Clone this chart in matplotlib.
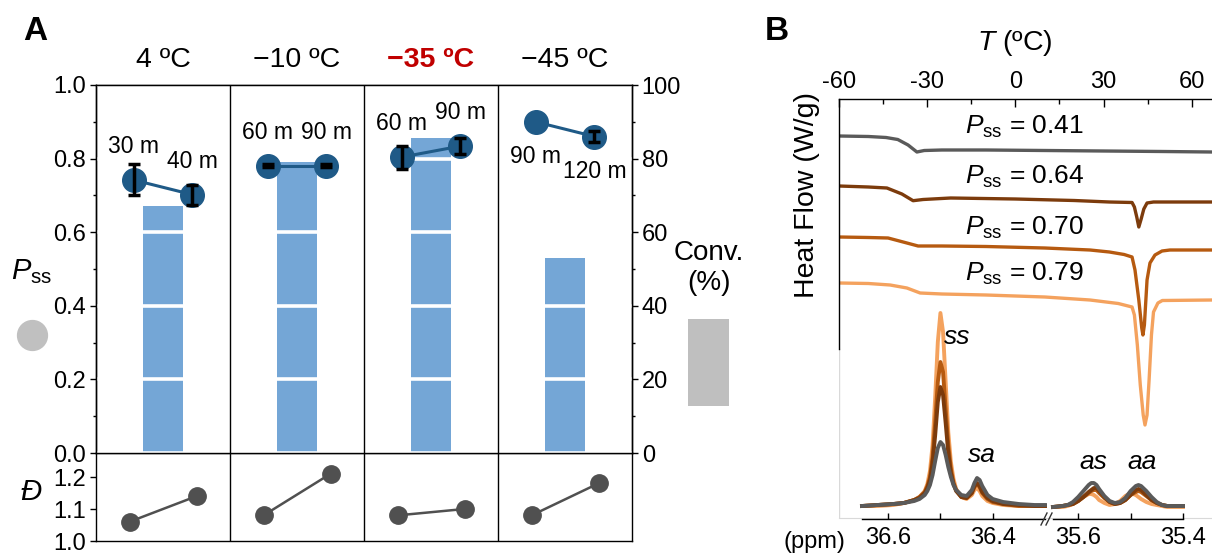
import numpy as np
import matplotlib
matplotlib.use("Agg")
import matplotlib.pyplot as plt
from matplotlib.lines import Line2D
from matplotlib.patches import Rectangle
from matplotlib.ticker import MultipleLocator

plt.rcParams['font.family'] = ['Liberation Sans', 'DejaVu Sans']
plt.rcParams['mathtext.fontset'] = 'custom'
plt.rcParams['mathtext.rm'] = 'Liberation Sans'
plt.rcParams['mathtext.it'] = 'Liberation Sans:italic'
plt.rcParams['axes.unicode_minus'] = False

# ---------------- panel A data ----------------
temps = ['4 ºC', '\u221210 ºC', '\u221235 ºC', '\u221245 ºC']
highlight = 2
times = [['30 m', '40 m'], ['60 m', '90 m'], ['60 m', '90 m'], ['90 m', '120 m']]
pss = [[0.742, 0.702], [0.781, 0.781], [0.804, 0.834], [0.900, 0.860]]
pss_err = [[0.042, 0.027], [0.004, 0.004], [0.031, 0.022], [np.nan, 0.016]]
conv = [67, 79, 85.5, 53]
dispersity = [[1.06, 1.14], [1.08, 1.21], [1.08, 1.10], [1.08, 1.18]]
labels_above = [True, True, True, False]

# ---------------- panel B data: DSC (T in ºC, heat flow offset, a.u.) ----------------
dsc_labels = ['0.41', '0.64', '0.70', '0.79']
dsc_T = [
    [-60, -50, -44, -40, -36.5, -33.5, -31, -25, -10, 10, 30, 50, 67],
    [-60, -50, -43.7, -38.6, -34.8, -31.4, -22, 0, 20, 32, 39.7, 40.5, 41.3, 42,
     42.8, 43.7, 44.8, 47, 55, 67],
    [-60, -50, -43.3, -36.9, -33.1, -25, -10, 10, 25.4, 32, 37, 39.7, 40.7, 42,
     43, 43.4, 43.9, 44.8, 45.8, 47.5, 49.9, 52.6, 67],
    [-60, -50, -42.6, -36.9, -32.4, -25, -10, 10, 25.4, 35, 39.7, 40.5, 41.5, 42.5,
     43.5, 44.1, 44.8, 45.5, 46.3, 47, 48.5, 50, 67],
]
dsc_hf = [
    [3.82, 3.815, 3.805, 3.785, 3.73, 3.66, 3.675, 3.68, 3.68, 3.675, 3.67, 3.665, 3.66],
    [3.32, 3.31, 3.30, 3.24, 3.173, 3.185, 3.20, 3.19, 3.175, 3.16, 3.155, 3.11, 3.01,
     2.91, 2.99, 3.09, 3.15, 3.16, 3.16, 3.16],
    [2.81, 2.805, 2.80, 2.75, 2.72, 2.72, 2.715, 2.70, 2.68, 2.66, 2.635, 2.61, 2.48,
     2.18, 1.90, 1.83, 1.93, 2.38, 2.55, 2.63, 2.67, 2.68, 2.68],
    [2.35, 2.345, 2.33, 2.30, 2.25, 2.24, 2.23, 2.21, 2.18, 2.145, 2.11, 2.03, 1.73,
     1.33, 1.03, 0.93, 1.03, 1.38, 1.83, 2.06, 2.15, 2.175, 2.18],
]

# ---------------- panel B data: 13C NMR (ppm, intensity a.u.) ----------------
ppm_left = [36.65, 36.62, 36.59, 36.57, 36.55, 36.54, 36.53, 36.525, 36.52, 36.515,
            36.51, 36.505, 36.50, 36.495, 36.49, 36.485, 36.48, 36.475, 36.47, 36.46,
            36.45, 36.44, 36.435, 36.43, 36.425, 36.42, 36.41, 36.40, 36.38, 36.35,
            36.32, 36.30]
nmr_left = [
    [1, 2, 3, 4, 6, 8, 12, 16, 22, 32, 46, 59, 65, 62, 52, 40, 30, 22, 17, 12,
     11, 17, 24, 29, 27, 21, 12, 8, 5, 3, 2, 2],
    [1, 2, 3, 4, 7, 9, 14, 19, 27, 44, 72, 105, 120, 112, 84, 54, 34, 23, 16, 10,
     9, 14, 21, 24, 21, 15, 9, 6, 3, 2, 1, 1],
    [1, 2, 3, 4, 7, 10, 15, 21, 30, 50, 85, 125, 145, 135, 98, 62, 38, 24, 17, 10,
     9, 14, 20, 23, 20, 14, 8, 5, 3, 1, 1, 1],
    [1, 1, 2, 4, 7, 10, 16, 23, 36, 62, 110, 165, 194, 175, 125, 75, 45, 28, 18, 10,
     8, 12, 17, 19, 16, 11, 6, 4, 2, 1, 1, 1],
]
ppm_right = [35.648, 35.63, 35.62, 35.61, 35.60, 35.59, 35.58, 35.575, 35.57, 35.565,
             35.56, 35.55, 35.54, 35.53, 35.52, 35.51, 35.50, 35.49, 35.485, 35.48,
             35.47, 35.46, 35.45, 35.44, 35.43, 35.42, 35.41, 35.40]
nmr_right = [
    [0, 1, 2, 5, 10, 16, 22, 24, 24, 22, 18, 11, 6, 4, 5, 9, 16, 21, 22, 21,
     16, 10, 5, 2, 1, 1, 1, 1],
    [0, 1, 2, 3, 6, 10, 15, 17, 19, 19, 16, 10, 5, 3, 4, 7, 12, 17, 18, 17,
     12, 7, 4, 2, 1, 1, 1, 1],
    [0, 1, 2, 3, 6, 10, 14, 16, 17, 17, 14, 9, 5, 3, 4, 7, 12, 15, 16, 15,
     11, 7, 4, 2, 1, 1, 1, 1],
    [0, 0, 1, 3, 6, 10, 13, 13, 12, 10, 7, 4, 2, 3, 6, 11, 14, 12, 10, 8,
     5, 3, 2, 1, 0, 0, 0, 0],
]
peak_labels = ['ss', 'sa', 'as', 'aa']

# ---------------- layout helpers (pixel -> figure fraction) ----------------
W, H = 1212, 555


def box(left, top, right, bottom):
    return [left / W, 1 - bottom / H, (right - left) / W, (bottom - top) / H]


def fx(px):
    return px / W


def fy(py):
    return 1 - py / H


blue_bar = '#74a6d6'
blue_pt = '#1f5a87'
grey_pt = '#505050'
red = '#c00000'
curve_colors = ['#5a5a5a', '#7c3b0c', '#b65a10', '#f4a25e']

fig = plt.figure(figsize=(W / 100, H / 100), dpi=100)

# ================= Panel A =================
axp = fig.add_axes(box(96, 85, 632, 453))
axc = axp.twinx()
axp.set_zorder(axc.get_zorder() + 1)
axp.patch.set_visible(False)

xc = np.arange(len(temps)) + 0.5
axc.bar(xc, conv, width=0.3, color=blue_bar, zorder=1)
axc.set_ylim(0, 100)
axc.yaxis.set_major_locator(MultipleLocator(20))
axc.yaxis.set_minor_locator(MultipleLocator(10))
axc.tick_params(axis='y', which='major', direction='out', length=4, width=1,
                labelsize=17, pad=3)
axc.tick_params(axis='y', which='minor', direction='out', length=2.5, width=1)

axp.set_xlim(0, len(temps))
axp.set_ylim(0, 1)
axp.yaxis.set_major_locator(MultipleLocator(0.2))
axp.yaxis.set_minor_locator(MultipleLocator(0.1))
axp.tick_params(axis='y', which='major', direction='out', length=4, width=1,
                labelsize=17, pad=3)
axp.tick_params(axis='y', which='minor', direction='out', length=2.5, width=1)
axp.tick_params(axis='x', bottom=False, labelbottom=False)
axp.yaxis.grid(True, color='white', lw=2.6, zorder=1.5)
axp.set_axisbelow(True)
for i in range(1, len(temps)):
    axp.axvline(i, color='black', lw=1, zorder=2.2)

for i in range(len(temps)):
    xs = [xc[i] - 0.22, xc[i] + 0.22]
    axp.plot(xs, pss[i], '-', color=blue_pt, lw=2.2, zorder=3)
    axp.plot(xs, pss[i], 'o', ms=17, color=blue_pt, zorder=4)
    for x, y, e in zip(xs, pss[i], pss_err[i]):
        if not np.isnan(e):
            axp.errorbar(x, y, yerr=e, fmt='none', ecolor='black', elinewidth=2.5,
                         capsize=4.5, capthick=2.5, zorder=5)
    off = 24 if labels_above[i] else -25
    for x, y, t in zip(xs, pss[i], times[i]):
        axp.annotate(t, (x, y), xytext=(0, off), textcoords='offset points',
                     ha='center', va='center', fontsize=16.5)
    axp.text(xc[i], 1.068, temps[i], ha='center', va='center', fontsize=20.5,
             color=red if i == highlight else 'black',
             fontweight='bold' if i == highlight else 'normal')

for ax in (axp, axc):
    for s in ax.spines.values():
        s.set_linewidth(1)

axd = fig.add_axes(box(96, 453, 632, 541))
axd.set_xlim(0, len(temps))
axd.set_ylim(1.0, 1.275)
axd.set_yticks([1.0, 1.1, 1.2])
axd.tick_params(axis='y', direction='out', length=4, width=1, labelsize=17, pad=3)
axd.tick_params(axis='x', bottom=False, labelbottom=False)
for i in range(1, len(temps)):
    axd.axvline(i, color='black', lw=1)
for i in range(len(temps)):
    axd.plot([xc[i] - 0.25, xc[i] + 0.25], dispersity[i], '-o', color=grey_pt,
             lw=1.8, ms=12.5)
for s in axd.spines.values():
    s.set_linewidth(1)

fig.text(fx(35), fy(32), 'A', fontsize=24, fontweight='bold', ha='center', va='center')
fig.text(fx(32), fy(272), '$P_{\\mathrm{ss}}$', fontsize=21, ha='center', va='center')
fig.add_artist(Line2D([fx(32)], [fy(335)], marker='o', ms=21.5, ls='none',
                      color='#c0c0c0', transform=fig.transFigure))
fig.text(fx(709), fy(268), 'Conv.\n(%)', fontsize=20, ha='center', va='center',
         linespacing=1.25)
fig.add_artist(Rectangle((fx(688), fy(406)), fx(729) - fx(688), fy(319) - fy(406),
                         transform=fig.transFigure, color='#bfbfbf', lw=0))
fig.text(fx(31), fy(492), '\u0110', fontsize=21, style='italic', ha='center', va='center')

# ================= Panel B: DSC =================
axh = fig.add_axes(box(839, 99, 1212, 518))
axh.set_xlim(-60, 66.9)
axh.set_ylim(0, 4.19)
axh.xaxis.tick_top()
axh.set_xticks([-60, -30, 0, 30, 60])
axh.xaxis.set_minor_locator(MultipleLocator(15))
axh.tick_params(axis='x', which='major', direction='in', length=6, width=1,
                labelsize=17, pad=4)
axh.tick_params(axis='x', which='minor', direction='in', length=3.5, width=1)
axh.set_yticks([])
axh.spines['right'].set_visible(False)
axh.spines['bottom'].set_color('#d9d9d9')
axh.spines['left'].set_bounds(1.69, 4.19)
axh.spines['top'].set_linewidth(1)
axh.spines['left'].set_linewidth(1)
axh.axvline(-60, ymin=0, ymax=1.69 / 4.19, color='#d9d9d9', lw=1)

for T, hf, c in zip(dsc_T, dsc_hf, curve_colors):
    axh.plot(T, hf, color=c, lw=2.4, solid_capstyle='round', solid_joinstyle='round')
for k, lab in enumerate(dsc_labels):
    axh.text(-17, dsc_hf[k][0] + 0.02, '$P_{\\mathrm{ss}}$ = ' + lab, fontsize=19,
             ha='left', va='baseline')

fig.text(fx(777), fy(32), 'B', fontsize=24, fontweight='bold', ha='center', va='center')
fig.text(fx(1015), fy(43), '$T$ (ºC)', fontsize=20.5, ha='center', va='center')
fig.text(fx(807), fy(195), 'Heat Flow (W/g)', fontsize=20.5, rotation=90,
         ha='center', va='center')

# ================= Panel B: NMR =================
axl = fig.add_axes(box(862, 300, 1045, 519))
axr = fig.add_axes(box(1053, 300, 1183, 519))
for ax, ppm, spectra, lim, major, minor in (
        (axl, ppm_left, nmr_left, (36.65, 36.30), [36.6, 36.4], [36.5]),
        (axr, ppm_right, nmr_right, (35.648, 35.40), [35.6, 35.4], [35.5])):
    ax.patch.set_visible(False)
    for s in ('left', 'right', 'top'):
        ax.spines[s].set_visible(False)
    ax.spines['bottom'].set_linewidth(1)
    ax.set_xlim(*lim)
    ax.set_ylim(-12, 207)
    ax.set_yticks([])
    ax.set_xticks(major)
    ax.set_xticklabels([f'{v:.1f}' for v in major])
    ax.set_xticks(minor, minor=True)
    ax.tick_params(axis='x', which='both', direction='in', length=4, width=1,
                   labelsize=17, pad=6)
    for spec, c in zip(spectra[::-1], curve_colors[::-1]):
        ax.plot(ppm, spec, color=c, lw=2.8, clip_on=False, solid_joinstyle='round')

axl.text(36.468, 170, peak_labels[0], fontsize=19, style='italic', ha='center', va='center')
axl.text(36.421, 52, peak_labels[1], fontsize=19, style='italic', ha='center', va='center')
axr.text(35.571, 45, peak_labels[2], fontsize=19, style='italic', ha='center', va='center')
axr.text(35.478, 45, peak_labels[3], fontsize=19, style='italic', ha='center', va='center')

for x0 in (1041, 1046):
    fig.add_artist(Line2D([fx(x0), fx(x0 + 6)], [fy(525), fy(513)], color='#333333',
                          lw=1, transform=fig.transFigure))
fig.text(fx(814), fy(542), '(ppm)', fontsize=17, ha='center', va='center')

fig.savefig('out.png', dpi=100)
